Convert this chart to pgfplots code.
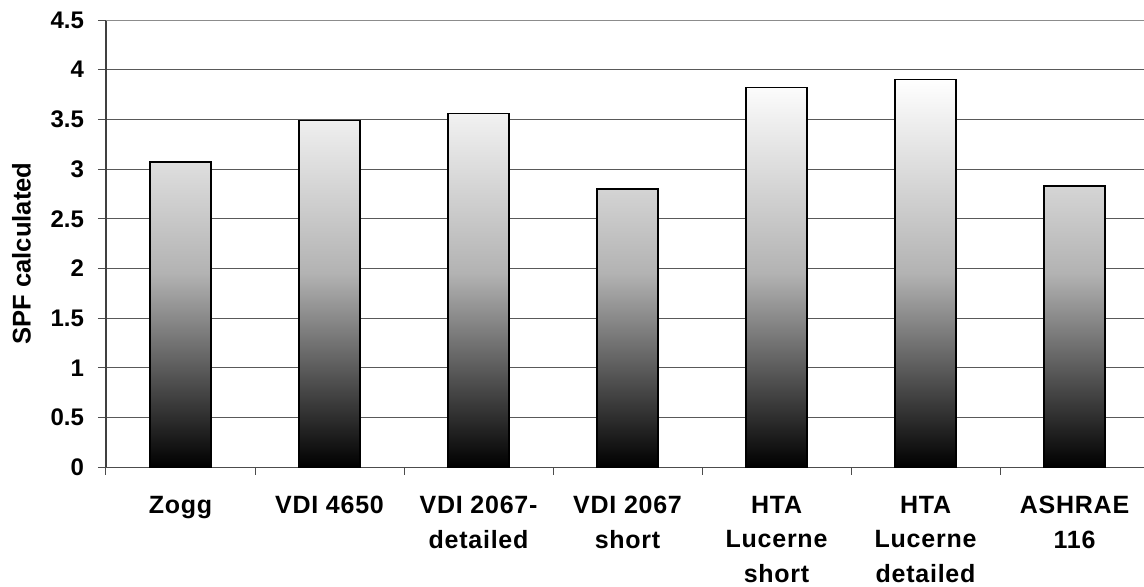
\documentclass[border=0pt]{standalone}
\usepackage{fontspec}
\setmainfont{Liberation Sans}
\usepackage{pgfplots}
\pgfplotsset{compat=1.18}
\begin{document}
\begin{tikzpicture}
\path[use as bounding box] (-53pt,-59.35pt) rectangle (519pt,233.65pt);
\begin{axis}[
  at={(0,0)}, anchor=south west,
  scale only axis, width=519pt, height=223.65pt,
  xmin=-0.5, xmax=6.466, ymin=0, ymax=4.5,
  axis x line*=bottom, axis y line*=left,
  x axis line style={black!70, line width=0.6pt},
  y axis line style={black!75, line width=0.6pt},
  tick align=outside,
  major tick length=4pt,
  minor tick length=3.8pt,
  ytick={0,0.5,...,4.5},
  xtick={0,1,2,3,4,5,6},
  minor xtick={-0.5,0.5,1.5,2.5,3.5,4.5,5.5},
  major x tick style={draw=none},
  minor x tick style={draw=black!70, line width=0.5pt},
  ytick style={draw=black!70, line width=0.5pt},
  xticklabels={Zogg,VDI 4650,{VDI 2067-\\detailed},{VDI 2067\\short},{HTA\\Lucerne\\short},{HTA\\Lucerne\\detailed},{ASHRAE\\116}},
  xticklabel style={align=center, font=\fontsize{12.5}{17.2}\selectfont\bfseries\addfontfeature{LetterSpace=3}, yshift=-7pt},
  yticklabel style={font=\fontsize{12}{14}\selectfont\bfseries, xshift=-3.5pt},
  /pgf/number format/assume math mode=true,
  ymajorgrids,
  major grid style={black!65, line width=0.5pt},
  ylabel={SPF calculated},
  ylabel style={font=\fontsize{12.8}{15}\selectfont\bfseries, at={(axis description cs:-0.0655,0.478)}, anchor=south},
]
\draw[black!45, line width=1pt] (rel axis cs:0,1) -- (rel axis cs:1,1);
\addplot[ybar, bar width=30.5pt, draw=black, line width=0.8pt,
  bottom color=black, top color=white, middle color=white!70!black]
  coordinates {(0,3.07) (1,3.49) (2,3.56) (3,2.80) (4,3.82) (5,3.90) (6,2.83)};
\end{axis}
\end{tikzpicture}
\end{document}
